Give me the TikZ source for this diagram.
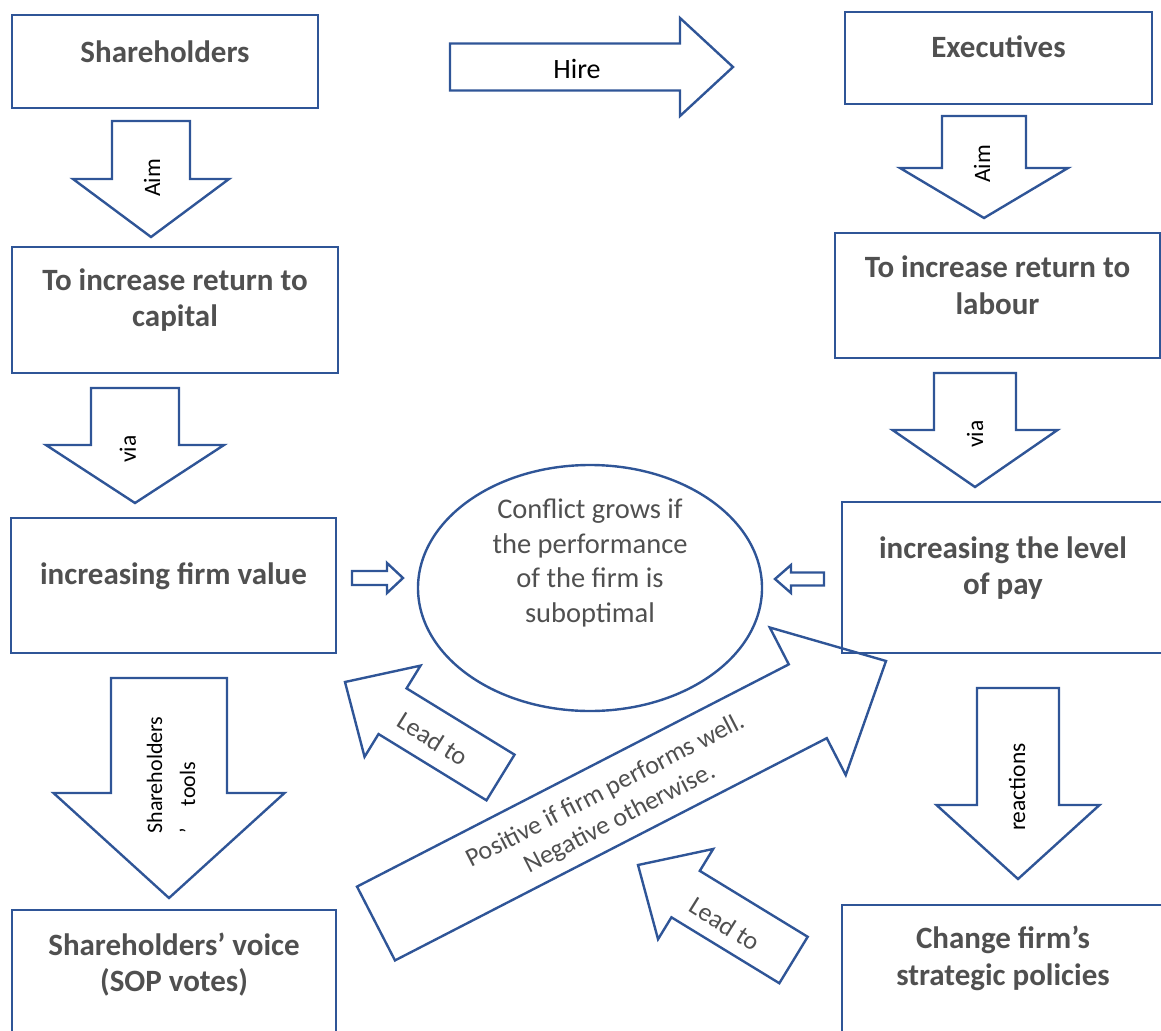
\documentclass[tikz,border=0pt]{standalone}
\usepackage{fontspec}
\setmainfont{Carlito}
\usepackage{tikz}
\usetikzlibrary{calc,shapes.geometric}

\definecolor{lineblue}{RGB}{47,85,151}
\definecolor{labelgray}{RGB}{80,80,80}

% block arrow: name, tail, tip, half body, half head, head length
\newcommand{\blockarrow}[6]{%
  \coordinate (#1-s) at (#2);
  \coordinate (#1-e) at (#3);
  \coordinate (#1-b) at ($(#1-e)!#6pt!(#1-s)$);
  \draw[arrowline] ($(#1-s)!#4pt!90:(#1-e)$) -- ($(#1-b)!#4pt!90:(#1-e)$)
    -- ($(#1-b)!#5pt!90:(#1-e)$) -- (#1-e) -- ($(#1-b)!#5pt!-90:(#1-e)$)
    -- ($(#1-b)!#4pt!-90:(#1-e)$) -- ($(#1-s)!#4pt!-90:(#1-e)$) -- cycle;}

\begin{document}
\begin{tikzpicture}[
    x=1pt, y=-1pt,
    box/.style={draw=lineblue, line width=2.4pt, inner sep=0pt},
    boxtext/.style={text=labelgray, align=center, inner sep=0pt, font=\fontsize{31}{36.5}\selectfont\bfseries},
    arrowline/.style={draw=lineblue, line width=2.4pt, line join=miter},
    arrowtext/.style={inner sep=0pt, font=\fontsize{23.5}{28}\selectfont},
    softtext/.style={text=labelgray, inner sep=0pt, font=\fontsize{26}{31.5}\selectfont}
  ]
  \clip (0,0) rectangle (1161,1030);

  \node[box, minimum width=306, minimum height=93] (sh) at (165,61.5) {};
  \node[box, minimum width=307, minimum height=92] (ex) at (998.5,58) {};
  \node[box, minimum width=326, minimum height=126] (cap) at (175,310) {};
  \node[box, minimum width=325, minimum height=125] (lab) at (997.5,295.5) {};
  \node[box, minimum width=325, minimum height=135] (val) at (173.5,585.5) {};
  \node[box, minimum width=322, minimum height=151] (pay) at (1003,577.5) {};
  \node[box, minimum width=324, minimum height=128] (voice) at (174,974) {};
  \node[box, minimum width=322, minimum height=130] (pol) at (1003,970) {};
  \node[ellipse, draw=lineblue, line width=2.4pt, inner sep=0pt,
        minimum width=344, minimum height=246] (con) at (590,588) {};

  \node[boxtext] (sh-t) at ([yshift=9.5pt]sh.center) {Shareholders};
  \node[boxtext] (ex-t) at ([yshift=11pt]ex.center) {Executives};
  \node[boxtext] (cap-t) at ([yshift=10pt]cap.center) {To increase return to\\capital};
  \node[boxtext] (lab-t) at ([yshift=10.5pt]lab.center) {To increase return to\\labour};
  \node[boxtext] (val-t) at ([yshift=9.5pt]val.center) {increasing firm value};
  \node[boxtext] (pay-t) at ([yshift=9.5pt]pay.center) {increasing the level\\of pay};
  \node[boxtext] (voice-t) at ([yshift=9.5pt]voice.center) {Shareholders’ voice\\(SOP votes)};
  \node[boxtext] (pol-t) at ([yshift=11.5pt]pol.center) {Change firm’s\\strategic policies};
  \node[softtext, align=center, font=\fontsize{28.5}{34.7}\selectfont] (con-t)
    at ([yshift=25pt]con.center) {Conflict grows if\\the performance\\of the firm is\\suboptimal};

  \blockarrow{hire}{450,67}{733,67}{23.5}{49}{53}
  \blockarrow{aimL}{151,121}{151,237}{39}{78}{58}
  \blockarrow{aimR}{984,116}{984,218}{42}{84}{50}
  \blockarrow{viaL}{135,388}{135,503}{44}{89}{58}
  \blockarrow{viaR}{975,373}{975,487}{41}{82.5}{57}
  \blockarrow{tools}{169,678}{169,898}{58}{115.5}{105}
  \blockarrow{react}{1018,688}{1018,879}{41}{81.5}{74}
  \blockarrow{toCon}{352,578}{403,578}{7}{15}{16}
  \blockarrow{fromPay}{824,579}{775,579}{6.5}{14}{16}
  \blockarrow{perf}{376,923.5}{886,661}{41.5}{83}{88}
  \blockarrow{leadA}{500.5,777.5}{345,682}{26.8}{53.5}{55.8}
  \blockarrow{leadB}{793.5,960}{638,865}{27.2}{52.9}{55.8}

  \node[arrowtext, font=\fontsize{28}{33}\selectfont] (hire-t) at (577,69) {Hire};
  \node[arrowtext, rotate=90] (aimL-t) at (152,178) {Aim};
  \node[arrowtext, rotate=90] (aimR-t) at (982,164) {Aim};
  \node[arrowtext, rotate=90] (viaL-t) at (128,449) {via};
  \node[arrowtext, rotate=90] (viaR-t) at (975,434) {via};
  \node[arrowtext, rotate=90, align=left, font=\fontsize{22}{33}\selectfont] (tools-t)
    at (171,775) {Shareholders\\’\hspace{22pt}tools};
  \node[arrowtext, rotate=90] (react-t) at (1017,787) {reactions};
  \node[softtext, rotate=-32] (leadA-t) at (433,739) {Lead to};
  \node[softtext, rotate=-32] (leadB-t) at (725,924) {Lead to};
  \node[softtext, rotate=27.2, align=center] (perf-t) at (613,805)
    {Positive if firm performs well.\\Negative otherwise.};
\end{tikzpicture}
\end{document}
